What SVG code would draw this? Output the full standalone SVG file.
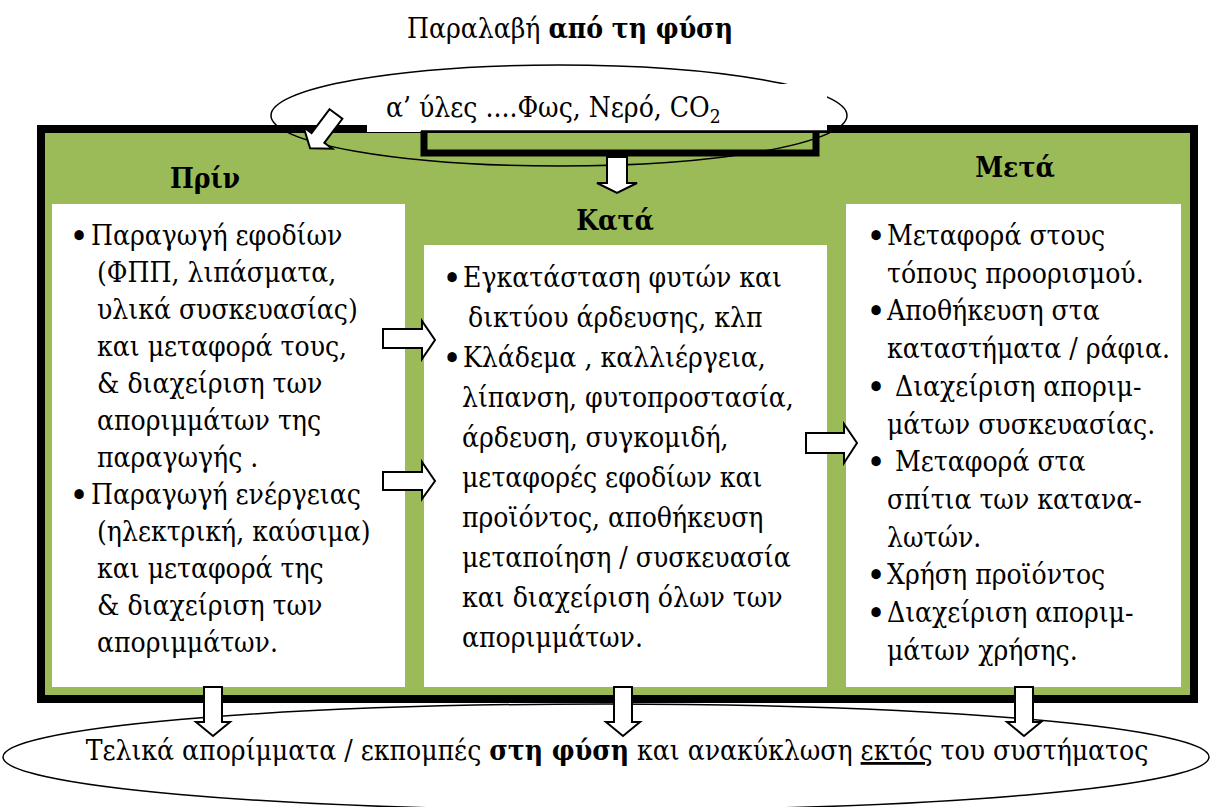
<svg xmlns="http://www.w3.org/2000/svg" width="1212" height="807" viewBox="0 0 1212 807">
<style>
text{font-family:"DejaVu Serif Condensed","DejaVu Serif",serif;font-size:28px;fill:#000}
.t{font-weight:bold;text-anchor:middle}
.b{font-weight:bold}
.d{text-anchor:middle;font-size:36px}
.arr{fill:#fff;stroke:#000;stroke-width:2;stroke-linejoin:miter}
.box{fill:#fff}
</style>
<rect width="1212" height="807" fill="#fff"/>
<g id="frame">
<rect x="41" y="129" width="1153" height="570" fill="#9BBB59" stroke="#000" stroke-width="8"/>
</g>
<g id="source">
<ellipse cx="559" cy="115.5" rx="288" ry="50.5" fill="none" stroke="#000" stroke-width="1.5"/>
<rect x="367" y="84" width="460" height="48" fill="#fff"/>
<path d="M424,131 V153 H816 V131" fill="none" stroke="#000" stroke-width="7"/>
<line x1="421" y1="131.5" x2="827" y2="131.5" stroke="#000" stroke-width="2.5"/>
<text x="386" y="117" font-size="29">α’ ύλες ....Φως, Νερό, CO<tspan font-size="19" dy="6">2</tspan></text>
</g>
<g id="title">
<text x="570" y="38" text-anchor="middle" font-size="27">Παραλαβή <tspan class="b">από τη φύση</tspan></text>
</g>
<g id="prin">
<rect class="box" x="52" y="204" width="353" height="483"/>
<text class="t" x="205" y="188">Πρίν</text>
<text class="d" x="79" y="248">•</text><text x="91" y="245">Παραγωγή εφοδίων</text>
<text x="97" y="282">(ΦΠΠ, λιπάσματα,</text>
<text x="97" y="319">υλικά συσκευασίας)</text>
<text x="97" y="356">και μεταφορά τους,</text>
<text x="97" y="393">&amp; διαχείριση των</text>
<text x="97" y="430">αποριμμάτων της</text>
<text x="97" y="467">παραγωγής .</text>
<text class="d" x="79" y="507">•</text><text x="91" y="504">Παραγωγή ενέργειας</text>
<text x="97" y="541">(ηλεκτρική, καύσιμα)</text>
<text x="97" y="578">και μεταφορά της</text>
<text x="97" y="615">&amp; διαχείριση των</text>
<text x="97" y="652">αποριμμάτων.</text>
</g>
<g id="kata">
<rect class="box" x="424" y="245" width="403" height="442"/>
<text class="t" x="615" y="230">Κατά</text>
<text class="d" x="452" y="290">•</text><text x="463" y="287">Εγκατάσταση φυτών και</text>
<text x="468" y="327">δικτύου άρδευσης, κλπ</text>
<text class="d" x="452" y="370">•</text><text x="463" y="367">Κλάδεμα , καλλιέργεια,</text>
<text x="462" y="407">λίπανση, φυτοπροστασία,</text>
<text x="462" y="447">άρδευση, συγκομιδή,</text>
<text x="462" y="487">μεταφορές εφοδίων και</text>
<text x="462" y="527">προϊόντος, αποθήκευση</text>
<text x="462" y="567">μεταποίηση / συσκευασία</text>
<text x="462" y="607">και διαχείριση όλων των</text>
<text x="462" y="647">αποριμμάτων.</text>
</g>
<g id="meta">
<rect class="box" x="846" y="204" width="335" height="483"/>
<text class="t" x="1015" y="177">Μετά</text>
<text class="d" x="876" y="248">•</text><text x="887" y="245">Μεταφορά στους</text>
<text x="887" y="283">τόπους προορισμού.</text>
<text class="d" x="876" y="323">•</text><text x="887" y="320">Αποθήκευση στα</text>
<text x="887" y="358">καταστήματα / ράφια.</text>
<text class="d" x="876" y="399">•</text><text x="895" y="396">Διαχείριση αποριμ-</text>
<text x="887" y="434">μάτων συσκευασίας.</text>
<text class="d" x="876" y="474">•</text><text x="895" y="471">Μεταφορά στα</text>
<text x="887" y="509">σπίτια των κατανα-</text>
<text x="887" y="547">λωτών.</text>
<text class="d" x="876" y="587">•</text><text x="887" y="584">Χρήση προϊόντος</text>
<text class="d" x="876" y="625">•</text><text x="887" y="622">Διαχείριση αποριμ-</text>
<text x="887" y="660">μάτων χρήσης.</text>
</g>
<g id="sink">
<ellipse cx="606" cy="757" rx="603" ry="53" fill="#fff" stroke="#000" stroke-width="1.5"/>
<text x="617" y="760" text-anchor="middle">Τελικά απορίμματα / εκπομπές <tspan class="b">στη φύση</tspan> και ανακύκλωση <tspan text-decoration="underline">εκτός</tspan> του συστήματος</text>
</g>
<g id="connectors">
<polygon class="arr" transform="translate(336,114) rotate(37)" points="-8,0 8,0 8,30 18,30 0,43 -18,30 -8,30"/>
<polygon class="arr" points="607,157 627,157 627,183 637,183 617,193 597,183 607,183"/>
<polygon class="arr" points="383,329 422,329 422,321 435,340 422,359 422,348 383,348"/>
<polygon class="arr" points="383,472 422,472 422,462 435,481 422,499 422,490 383,490"/>
<polygon class="arr" points="806,433 844,433 844,424 857,443 844,463 844,453 806,453"/>
<polygon class="arr" points="204,687 222,687 222,722 230,722 213,736 196,722 204,722"/>
<polygon class="arr" points="614,687 632,687 632,722 640,722 623,736 606,722 614,722"/>
<polygon class="arr" points="1015,687 1033,687 1033,722 1041,722 1024,736 1007,722 1015,722"/>
</g>
</svg>
